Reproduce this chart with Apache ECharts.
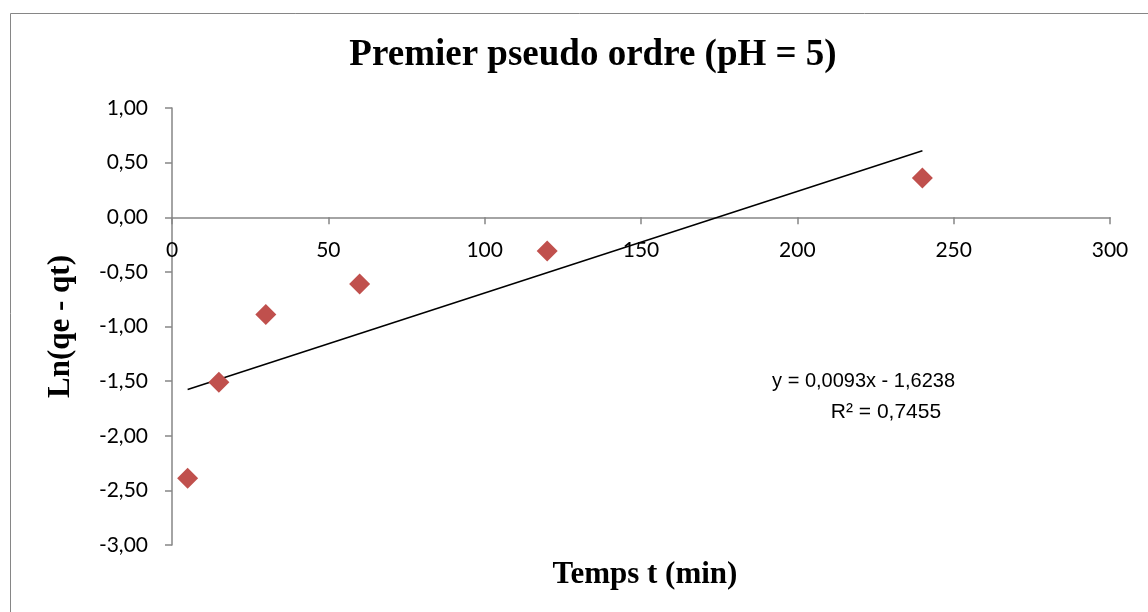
<!DOCTYPE html>
<html>
<head>
<meta charset="utf-8">
<script src="https://cdn.jsdelivr.net/npm/echarts@6/dist/echarts.min.js"></script>
<style>
  html, body { margin: 0; padding: 0; background: #fff; }
  #chart { width: 1148px; height: 612px; }
</style>
</head>
<body>
<div id="chart"></div>
<script>
// measured points
const temps = [5, 15, 30, 60, 120, 240]
const lnValues = [-2.39, -1.51, -0.89, -0.61, -0.31, 0.36]

// linear trendline y = 0.0093x - 1.6238, drawn from first to last point
const trendX = [5, 240]
const trendY = [-1.5773, 0.6082]

const equationText = 'y = 0,0093x - 1,6238'
const r2Text = 'R² = 0,7455'

const serif = '"Liberation Serif", "Times New Roman", serif'
const sans = 'Lato, "Liberation Sans", sans-serif'

const axisGray = '#868686'

const chart = echarts.init(document.getElementById('chart'))

chart.setOption({
  animation: false,
  title: [
    {
      text: 'Premier pseudo ordre (pH = 5)',
      left: 588,
      top: 32,
      textAlign: 'center',
      textStyle: { fontFamily: serif, fontWeight: 'bold', fontSize: 37, color: '#000' }
    },
    {
      text: 'Temps t (min)',
      left: 640,
      top: 554,
      textAlign: 'center',
      textStyle: { fontFamily: serif, fontWeight: 'bold', fontSize: 31, color: '#000' }
    }
  ],
  graphic: [
    {
      type: 'rect',
      left: 8,
      top: 11,
      shape: { width: 1139, height: 600 },
      style: { fill: 'none', stroke: axisGray, lineWidth: 1 },
      silent: true
    },
    {
      type: 'text',
      x: 955,
      y: 371,
      style: {
        text: equationText,
        align: 'right',
        font: '20px "Liberation Sans", Arial, sans-serif',
        fill: '#000'
      }
    },
    {
      type: 'text',
      x: 886,
      y: 402,
      style: {
        text: r2Text,
        align: 'center',
        font: '21px "Liberation Sans", Arial, sans-serif',
        fill: '#000'
      }
    }
  ],
  grid: {
    left: 172,
    right: 38,
    top: 108,
    bottom: 67
  },
  xAxis: [
    {
      type: 'value',
      min: 0,
      max: 300,
      interval: 50,
      axisLine: { onZero: true, lineStyle: { color: axisGray, width: 1.5 } },
      axisTick: { show: true, length: 7, lineStyle: { color: axisGray, width: 1.5 } },
      axisLabel: { show: false },
      splitLine: { show: false }
    },
    {
      // tick labels sit just under the zero line, as in the spreadsheet
      type: 'value',
      position: 'bottom',
      offset: -328,
      min: 0,
      max: 300,
      interval: 50,
      axisLine: { show: false, onZero: false },
      axisTick: { show: false },
      axisLabel: { margin: 23, fontSize: 21, fontFamily: sans, color: '#000' },
      splitLine: { show: false }
    }
  ],
  yAxis: {
    type: 'value',
    min: -3,
    max: 1,
    interval: 0.5,
    name: 'Ln(qe - qt)',
    nameLocation: 'middle',
    nameGap: 96,
    nameRotate: 90,
    nameTextStyle: { fontFamily: serif, fontWeight: 'bold', fontSize: 31, color: '#000' },
    axisLine: { show: true, lineStyle: { color: axisGray, width: 1.5 } },
    axisTick: { show: true, length: 7, lineStyle: { color: axisGray, width: 1.5 } },
    axisLabel: {
      margin: 24,
      fontSize: 21,
      fontFamily: sans,
      color: '#000',
      formatter(v) {
        return v.toFixed(2).replace('.', ',')
      }
    },
    splitLine: { show: false }
  },
  series: [
    {
      name: 'trend',
      type: 'line',
      data: trendX.map((x, i) => [x, trendY[i]]),
      symbol: 'none',
      lineStyle: { color: '#000', width: 1.5 },
      z: 2
    },
    {
      name: 'Ln(qe - qt)',
      type: 'scatter',
      data: temps.map((t, i) => [t, lnValues[i]]),
      symbol: 'diamond',
      symbolSize: [21, 21],
      itemStyle: { color: '#C0504D', opacity: 1 },
      z: 3
    }
  ]
})
</script>
</body>
</html>
